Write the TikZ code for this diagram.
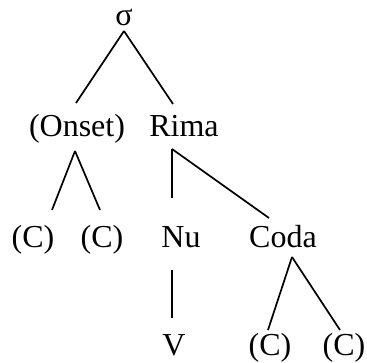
\documentclass[tikz,border=0pt]{standalone}
\usepackage{fontspec}
\setmainfont{Liberation Serif}
\usetikzlibrary{calc}
\begin{document}
\begin{tikzpicture}[x=1pt,y=-1pt,
  lbl/.style={anchor=base,inner sep=0pt,font=\fontsize{32}{36}\selectfont},
  edge/.style={line width=1.7pt,line cap=butt}]
\useasboundingbox (0,0) rectangle (367,362);
\node[lbl] (sigma) at (124,25) {σ};
\node[lbl] (onset) at (77,136) {(Onset)};
\node[lbl] (rima) at (184,136) {Rima};
\node[lbl] (c1) at (33,247) {(C)};
\node[lbl] (c2) at (102,247) {(C)};
\node[lbl] (nu) at (181,247) {Nu};
\node[lbl] (coda) at (283,247) {Coda};
\node[lbl] (v) at (174,355) {V};
\node[lbl] (c3) at (270,355) {(C)};
\node[lbl] (c4) at (344,355) {(C)};
\draw[edge] ($(sigma.base)+(0,6)$) -- ($(onset.base)+(-1,-33)$);
\draw[edge] ($(sigma.base)+(0,6)$) -- ($(rima.base)+(-11,-32)$);
\draw[edge] ($(onset.base)+(-2,15)$) -- ($(c1.base)+(19,-37)$);
\draw[edge] ($(onset.base)+(-2,15)$) -- ($(c2.base)+(-2,-37)$);
\draw[edge] ($(rima.base)+(-12,13)$) -- ($(nu.base)+(-9,-49)$);
\draw[edge] ($(rima.base)+(-12,13)$) -- ($(coda.base)+(-14,-29)$);
\draw[edge] ($(nu.base)+(-9,23)$) -- ($(v.base)+(-2,-37)$);
\draw[edge] ($(coda.base)+(9,10)$) -- ($(c3.base)+(-2,-25)$);
\draw[edge] ($(coda.base)+(9,10)$) -- ($(c4.base)+(-4,-25)$);
\end{tikzpicture}
\end{document}
